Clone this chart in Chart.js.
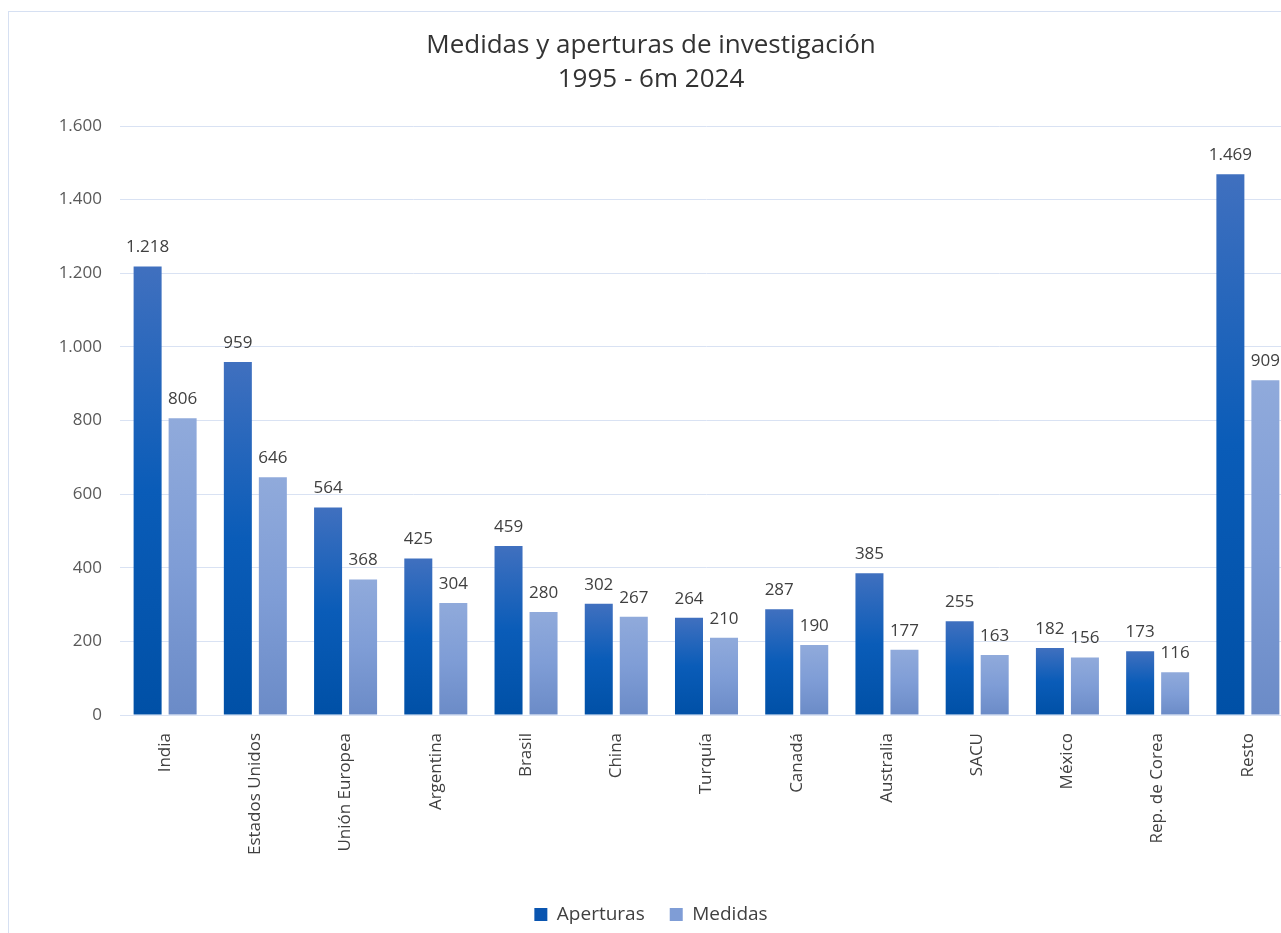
<!DOCTYPE html>
<html>
<head>
<meta charset="utf-8">
<script src="https://cdn.jsdelivr.net/npm/chart.js@4.4.1/dist/chart.umd.min.js"></script>
<style>
  body { margin: 0; background: #fff; overflow: hidden; }
  #wrap { position: absolute; left: 8px; top: 11px; width: 1288px; height: 940px; border: 1px solid #d6e0f2; }
  canvas { display: block; }
</style>
</head>
<body>
<div id="wrap"><canvas id="chart" width="1286" height="940"></canvas></div>
<script>
const categories = ['India', 'Estados Unidos', 'Unión Europea', 'Argentina', 'Brasil', 'China', 'Turquía', 'Canadá', 'Australia', 'SACU', 'México', 'Rep. de Corea', 'Resto'];
const aperturas = [1218, 959, 564, 425, 459, 302, 264, 287, 385, 255, 182, 173, 1469];
const medidas = [806, 646, 368, 304, 280, 267, 210, 190, 177, 163, 156, 116, 909];
const yTicks = [0, 200, 400, 600, 800, 1000, 1200, 1400, 1600];

const FONT = "'Open Sans', 'DejaVu Sans', sans-serif";

function fmt(n) {
    return String(n).replace(/\B(?=(\d{3})+(?!\d))/g, '.');
}

// gradient per bar: lighter on top, darker at the base
function barGradient(top, mid, bottom) {
    return function(ctx) {
        const chart = ctx.chart;
        if (!chart.chartArea || !ctx.parsed) return bottom;
        const y = chart.scales.y;
        const y0 = y.getPixelForValue(ctx.parsed.y);
        const y1 = y.getPixelForValue(0);
        const g = chart.ctx.createLinearGradient(0, y0, 0, y1);
        g.addColorStop(0, top);
        g.addColorStop(0.5, mid);
        g.addColorStop(1, bottom);
        return g;
    };
}

const valueLabels = {
    id: 'valueLabels',
    afterDatasetsDraw(chart) {
        const c = chart.ctx;
        c.save();
        c.font = '17px ' + FONT;
        c.fillStyle = '#404040';
        c.textAlign = 'center';
        c.textBaseline = 'middle';
        chart.data.datasets.forEach((ds, i) => {
            chart.getDatasetMeta(i).data.forEach((bar, j) => {
                c.fillText(fmt(ds.data[j]), bar.x, bar.y - 19);
            });
        });
        c.restore();
    }
};

new Chart(document.getElementById('chart'), {
    type: 'bar',
    data: {
        labels: categories,
        datasets: [
            {
                label: 'Aperturas',
                data: aperturas,
                backgroundColor: barGradient('#4070bf', '#0a5cb8', '#0050a6'),
                legendColor: '#0a55b0'
            },
            {
                label: 'Medidas',
                data: medidas,
                backgroundColor: barGradient('#90aadb', '#7f9dd6', '#6b8bc7'),
                legendColor: '#7f9dd6'
            }
        ]
    },
    options: {
        responsive: false,
        animation: false,
        layout: { padding: { left: 0, right: 2, top: 0, bottom: 18 } },
        datasets: { bar: { categoryPercentage: 0.776, barPercentage: 0.8 } },
        plugins: {
            title: {
                display: true,
                text: ['Medidas y aperturas de investigación', '1995 - 6m 2024'],
                color: '#333333',
                font: { family: FONT, size: 26, weight: 'normal', lineHeight: '34px' },
                padding: { top: 17, bottom: 29 }
            },
            legend: {
                position: 'bottom',
                labels: {
                    color: '#404040',
                    font: { family: FONT, size: 19 },
                    boxWidth: 13,
                    boxHeight: 13,
                    padding: 25,
                    generateLabels(chart) {
                        return chart.data.datasets.map((ds, i) => ({
                            text: ds.label,
                            fillStyle: ds.legendColor,
                            strokeStyle: ds.legendColor,
                            lineWidth: 0,
                            fontColor: '#404040',
                            datasetIndex: i
                        }));
                    }
                }
            },
            tooltip: { enabled: false }
        },
        scales: {
            x: {
                grid: { display: false },
                border: { display: true, color: '#d9e2f3' },
                ticks: {
                    color: '#404040',
                    font: { family: FONT, size: 17 },
                    minRotation: 90,
                    maxRotation: 90,
                    autoSkip: false,
                    padding: 10
                },
                afterFit(scale) { scale.height = 165; }
            },
            y: {
                min: 0,
                max: 1600,
                border: { display: false },
                grid: { color: '#d9e2f3', drawTicks: false },
                afterBuildTicks(scale) { scale.ticks = yTicks.map(v => ({ value: v })); },
                ticks: {
                    color: '#595959',
                    font: { family: FONT, size: 17 },
                    padding: 18,
                    callback: v => fmt(v)
                },
                afterFit(scale) { scale.width = 111; }
            }
        }
    },
    plugins: [valueLabels]
});
</script>
</body>
</html>
